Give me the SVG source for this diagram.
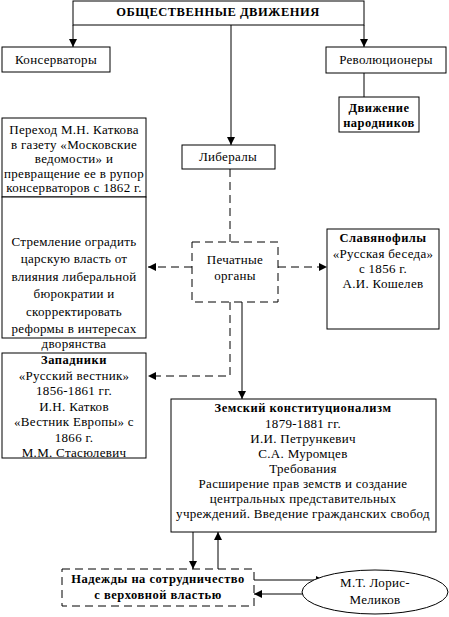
<svg xmlns="http://www.w3.org/2000/svg" width="449" height="617" viewBox="0 0 449 617" font-family="Liberation Serif, Times New Roman, serif">
<style>
.b{fill:#fff;stroke:#000;stroke-width:1}
.d{fill:#fff;stroke:#000;stroke-width:1;stroke-dasharray:8,5}
text{font-size:13px;fill:#000;text-anchor:middle;letter-spacing:0.3px}
.bo{font-weight:bold;font-size:12.5px;letter-spacing:0.5px}
.c{fill:none;stroke:#000;stroke-width:1}
.cd{fill:none;stroke:#000;stroke-width:1;stroke-dasharray:8,5}
</style>
<defs>
<marker id="a" viewBox="0 0 8 8" refX="8" refY="4" markerWidth="8" markerHeight="8" markerUnits="userSpaceOnUse" orient="auto">
<path d="M0,0L8,4L0,8z" fill="#000"/>
</marker>
</defs>
<rect width="449" height="617" fill="#fff"/>
<g id="connectors">
<path class="c" d="M73,25V47" marker-end="url(#a)"/>
<path class="c" d="M364,25V47" marker-end="url(#a)"/>
<path class="c" d="M231,25V145" marker-end="url(#a)"/>
<path class="c" d="M364,73V97"/>
<path class="c" d="M73,197V237" marker-end="url(#a)"/>
<path class="cd" d="M230,169V242"/>
<path class="cd" d="M192,267H148" marker-end="url(#a)"/>
<path class="cd" d="M278,267H327" marker-end="url(#a)"/>
<path class="cd" d="M230,302V376H148" marker-end="url(#a)"/>
<path class="c" d="M242,302V399" marker-end="url(#a)"/>
<path class="c" d="M193,532V569" marker-end="url(#a)"/>
<path class="c" d="M218,569V532" marker-end="url(#a)"/>
<path class="c" d="M254,580H324" marker-end="url(#a)"/>
<path class="c" d="M315,594H254" marker-end="url(#a)"/>
</g>
<g id="root">
<rect class="b" x="73" y="1" width="291" height="24"/>
<text class="bo" x="218" y="16">ОБЩЕСТВЕННЫЕ ДВИЖЕНИЯ</text>
</g>
<g id="conservatives">
<rect class="b" x="2" y="47" width="108" height="25"/>
<text x="56" y="64">Консерваторы</text>
</g>
<g id="revolutionaries">
<rect class="b" x="326" y="47" width="120" height="26"/>
<text x="386" y="64">Революционеры</text>
</g>
<g id="narodniki">
<rect class="b" x="339" y="97" width="80" height="35"/>
<text class="bo" x="379" y="112">Движение</text>
<text class="bo" x="379" y="127">народников</text>
</g>
<g id="liberals">
<rect class="b" x="182" y="145" width="93" height="24"/>
<text x="228" y="161">Либералы</text>
</g>
<g id="katkov">
<rect class="b" x="2" y="118" width="144" height="79"/>
<text x="74" y="134">Переход М.Н. Каткова</text>
<text x="74" y="148.5">в газету «Московские</text>
<text x="74" y="163">ведомости» и</text>
<text x="74" y="177.5">превращение ее в рупор</text>
<text x="74" y="192">консерваторов с 1862 г.</text>
</g>
<g id="aim">
<rect class="b" x="2" y="197" width="144" height="141"/>
<text x="74" y="246">Стремление оградить</text>
<text x="74" y="263">царскую власть от</text>
<text x="74" y="280.5">влияния либеральной</text>
<text x="74" y="298">бюрократии и</text>
<text x="74" y="315.5">скорректировать</text>
<text x="74" y="333">реформы в интересах</text>
<text x="74" y="348">дворянства</text>
</g>
<g id="press">
<rect class="d" x="192" y="242" width="86" height="60"/>
<text x="235" y="264">Печатные</text>
<text x="235" y="280">органы</text>
</g>
<g id="slavophiles">
<rect class="b" x="327" y="229" width="112" height="100"/>
<text class="bo" x="383" y="242">Славянофилы</text>
<text x="383" y="258">«Русская беседа»</text>
<text x="383" y="273">с 1856 г.</text>
<text x="383" y="288">А.И. Кошелев</text>
</g>
<g id="westerners">
<rect class="b" x="2" y="353" width="144" height="105"/>
<text class="bo" x="74" y="364">Западники</text>
<text x="74" y="380">«Русский вестник»</text>
<text x="74" y="395">1856-1861 гг.</text>
<text x="74" y="411">И.Н. Катков</text>
<text x="74" y="426">«Вестник Европы» с</text>
<text x="74" y="442">1866 г.</text>
<text x="74" y="457">М.М. Стасюлевич</text>
</g>
<g id="zemstvo">
<rect class="b" x="171" y="399" width="265" height="133"/>
<text class="bo" x="303" y="412">Земский конституционализм</text>
<text x="303" y="428">1879-1881 гг.</text>
<text x="303" y="443">И.И. Петрункевич</text>
<text x="303" y="458">С.А. Муромцев</text>
<text x="303" y="473">Требования</text>
<text x="303" y="488">Расширение прав земств и создание</text>
<text x="303" y="503">центральных представительных</text>
<text x="303" y="518">учреждений. Введение гражданских свобод</text>
</g>
<g id="hopes">
<rect class="d" x="62" y="569" width="192" height="37"/>
<text class="bo" x="158" y="583">Надежды на сотрудничество</text>
<text class="bo" x="158" y="599">с верховной властью</text>
</g>
<g id="loris">
<ellipse class="b" cx="375" cy="592" rx="73" ry="22"/>
<text x="375" y="587">М.Т. Лорис-</text>
<text x="375" y="604">Меликов</text>
</g>
</svg>
